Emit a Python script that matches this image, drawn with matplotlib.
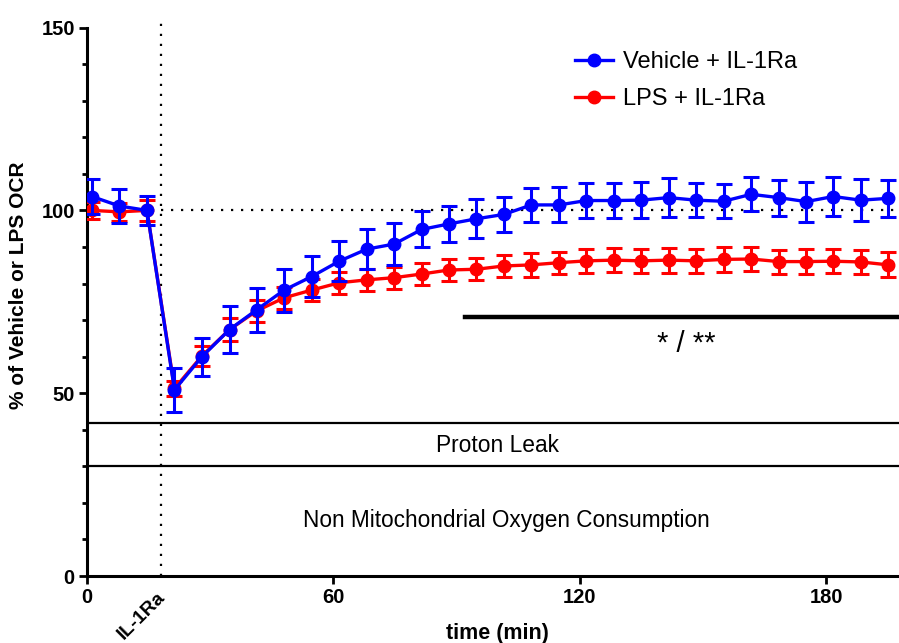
import matplotlib
matplotlib.use("Agg")
import matplotlib.pyplot as plt
from matplotlib.ticker import MultipleLocator

plt.rcParams['font.family'] = ['Liberation Sans', 'DejaVu Sans']

# measurement times (min)
time = [1.2, 7.9, 14.6, 21.3, 28.0, 34.7, 41.3, 48.0, 54.7, 61.4,
        68.1, 74.8, 81.5, 88.1, 94.8, 101.5, 108.2, 114.9, 121.6, 128.3,
        134.9, 141.6, 148.3, 155.0, 161.7, 168.4, 175.1, 181.7, 188.4, 195.1]

# Vehicle + IL-1Ra
veh = [103.8, 101.2, 100.0, 50.9, 60.0, 67.4, 72.8, 78.2, 81.9, 86.1,
       89.4, 90.8, 94.8, 96.3, 97.7, 98.9, 101.5, 101.5, 102.7, 102.7,
       102.8, 103.5, 102.8, 102.5, 104.4, 103.5, 102.4, 103.8, 102.8, 103.3]
veh_err = [4.7, 4.7, 3.9, 6.1, 5.2, 6.4, 6.0, 5.9, 5.7, 5.5,
           5.4, 5.8, 4.9, 4.9, 5.3, 4.9, 4.6, 4.8, 4.9, 4.9,
           4.9, 5.3, 4.7, 4.7, 4.6, 4.9, 5.5, 5.2, 5.7, 5.0]

# LPS + IL-1Ra
lps = [100.0, 99.6, 100.0, 51.3, 60.2, 67.4, 72.5, 76.1, 78.2, 80.2,
       81.0, 81.6, 82.6, 83.7, 83.9, 84.8, 85.1, 85.7, 86.2, 86.4,
       86.2, 86.4, 86.2, 86.6, 86.7, 86.0, 86.0, 86.1, 85.9, 85.1]
lps_err = [2.4, 2.4, 2.9, 2.1, 2.7, 3.2, 3.1, 3.0, 3.0, 3.0,
           3.0, 3.0, 3.1, 2.9, 3.0, 3.1, 3.2, 3.0, 3.2, 3.3,
           3.3, 3.4, 3.3, 3.4, 3.4, 3.3, 3.4, 3.3, 3.4, 3.4]

inject_time = 18
proton_leak_top = 41.9
non_mito_top = 30.2
sig_start = 92
sig_level = 70.8

fig = plt.figure(figsize=(8.99, 6.43), dpi=100)
ax = fig.add_axes([87/899, 67/643, 812/899, 548.4/643])

red = '#ff0000'
blue = '#0000ff'

ax.errorbar(time, lps, yerr=lps_err, fmt='none', ecolor=red, elinewidth=2.2,
            capsize=5.5, capthick=2.2, zorder=3)
l_lps, = ax.plot(time, lps, color=red, lw=2.4, marker='o', ms=9, zorder=4)
ax.errorbar(time, veh, yerr=veh_err, fmt='none', ecolor=blue, elinewidth=2.2,
            capsize=5.5, capthick=2.2, zorder=5)
l_veh, = ax.plot(time, veh, color=blue, lw=2.4, marker='o', ms=9, zorder=6)

# reference lines
ax.axvline(inject_time, ymin=0, ymax=1.02, color='black', ls=(0, (1, 3.5)), lw=1.6,
           clip_on=False, zorder=1)
ax.plot([inject_time, 200], [100, 100], color='black', ls=(0, (1, 3.5)), lw=1.6, zorder=1)
ax.axhline(proton_leak_top, color='black', lw=1.6, zorder=2)
ax.axhline(non_mito_top, color='black', lw=1.6, zorder=2)
ax.plot([sig_start, 200], [sig_level, sig_level], color='black', lw=3.2, zorder=2)

ax.text(146, 63.5, '* / **', ha='center', va='center', fontsize=21)
ax.text(100, 35.6, 'Proton Leak', ha='center', va='center', fontsize=16.4)
ax.text(102, 15.2, 'Non Mitochondrial Oxygen Consumption', ha='center', va='center',
        fontsize=16.3)

ax.set_xlim(0, 197.7)
ax.set_ylim(0, 150)
ax.set_xticks([0, 60, 120, 180])
ax.set_yticks([0, 50, 100, 150])
ax.yaxis.set_minor_locator(MultipleLocator(10))

for s in ['top', 'right']:
    ax.spines[s].set_visible(False)
for s in ['left', 'bottom']:
    ax.spines[s].set_linewidth(2.2)

ax.tick_params(axis='both', which='major', length=5.8, width=2.0, labelsize=14.5, pad=3)
ax.tick_params(axis='y', which='minor', length=3.6, width=2.0)
for lab in ax.get_xticklabels() + ax.get_yticklabels():
    lab.set_fontweight('bold')

# injection label under the axis
ax.text(inject_time - 1, -3.5, 'IL-1Ra', rotation=45, ha='right', va='top',
        fontsize=14, fontweight='bold', rotation_mode='anchor')

ax.set_ylabel('% of Vehicle or LPS OCR', fontsize=15, fontweight='bold')
ax.yaxis.set_label_coords(-0.073, 0.53)
fig.text(497/899, 1 - 633/643, 'time (min)', ha='center', va='center', fontsize=15.5,
         fontweight='bold')

ax.legend([l_veh, l_lps], ['Vehicle + IL-1Ra', 'LPS + IL-1Ra'], loc='upper left',
          bbox_to_anchor=(563/899, 1 - 39/643), bbox_transform=fig.transFigure,
          frameon=False, fontsize=17, handlelength=1.6, handletextpad=0.45,
          labelspacing=0.65, borderpad=0)

fig.savefig('out.png', dpi=100)
